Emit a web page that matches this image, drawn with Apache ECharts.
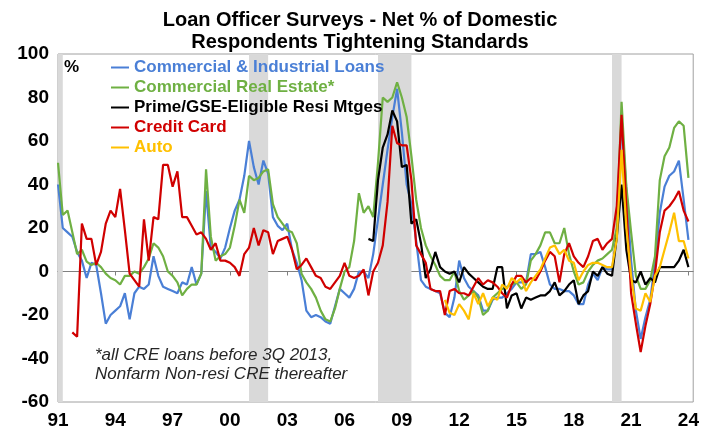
<!DOCTYPE html>
<html>
<head>
<meta charset="utf-8">
<script src="https://cdn.jsdelivr.net/npm/echarts@6/dist/echarts.min.js"></script>
<style>
  html, body { margin: 0; padding: 0; background: #fff; }
  #chart { width: 702px; height: 430px; }
</style>
</head>
<body>
<div id="chart"></div>
<script>
// quarterly survey dates, 1991Q1 .. 2024Q2 (last one empty, pads the axis)
var quarters = [];
for (var y = 1991; y <= 2024; y++) {
  for (var q = 1; q <= 4; q++) {
    if (y === 2024 && q > 2) break;
    quarters.push(y + 'Q' + q);
  }
}
var tickYears = ['91', '94', '97', '00', '03', '06', '09', '12', '15', '18', '21', '24'];
var recessions = [['1991Q1', '1991Q2'], ['2001Q1', '2002Q1'], ['2007Q4', '2009Q3'], ['2020Q1', '2020Q3']];

// net % tightening, from 1991Q1
var ciLoans = [
  40, 20, 18, 16, 9, 5, -3, 4, 3, -10,
  -24, -20, -18, -16, -10, -22, -10, -7, -8, -6,
  7, -2, -7, -8, -9, -10, -5, -6, 2, -6,
  -1, 37, 11, 9, 6, 11, 20, 28, 33, 44,
  60, 48, 40, 51, 45, 25, 21, 19, 22, 10,
  4, -4, -18, -21, -20, -21, -23, -24, -16, -8,
  -10, -12, -8, 0, 0, -3, 8, 24, 40, 56,
  71, 84, 64, 40, 31, 14, -4, -7, -8, -9,
  -10, -19, -21, -12, 5, -3, -7, -9, -11, -18,
  -18, -13, -12, -12, -10, -8, -5, -5, -5, 8,
  8, 9, 2, -6, -8, -8, -9, -9, -11, -15,
  -15, -6, -1, -4, 2, 1, 1, 16, 70, 38,
  5, -18, -31, -21, -13, 4, 27, 39, 44, 46,
  51, 33, 14.5
];
var creLoans = [
  50, 26, 28, 18, 8, 10, 4.5, 3, 4, 2,
  -1, -3, -4, -6, -2, -2, 0, -1, 2, 6,
  13, 11, 7, 0, -2, -5, -11, -8, -6, -6,
  -1, 47, 16, 5, 7, 8, 11, 21, 33, 27,
  44, 42, 43, 46, 47, 31, 25, 22, 19, 18,
  13, -1, -5, -8, -12, -18, -22, -23, -17, -8,
  0, 2, 14, 36, 27, 30, 25, 50, 80, 78,
  80, 87, 80, 71, 53, 33, 20, 12, 7, 3,
  -2, -4, -4, 0, -9, -13, -11, -9, -12, -20,
  -18, -12, -10, -8, -7, -6, -5, -8, -6, 5,
  8, 12, 18, 18, 13, 13, 20, 8, 0, -6,
  -5, 0, 3, 5, 6, 8, 10, 20, 78, 39,
  18, -2, -8, -8, -4, 7, 42, 53, 57, 66,
  69, 67, 43
];
// starts 2007Q2
var primeMtg = [
  15, 14, 42, 57, 63, 74, 69, 48, 49, 22,
  24, 13, -3, 1, 9, 2, 0, -1, 0, -5,
  2, -1, -3, -5, -7, -8, -8, 2, 2, -17,
  -11, -10, -17, -12, -13, -12, -11, -11, -9, -5,
  -11, -9, -6, -4, -15, -11, -9, 0, -2, 2,
  -1, -2, 16, 40, 10, -4, -5, 0, -6, -3,
  -5, 2, 2, 2, 2, 5, 10, 2
];
// starts 1991Q4
var creditCard = [
  -28, -30, 22, 15, 15, 3, 9, 22, 28, 25,
  38, 19, -1, -4, -7, 24, 5, 25, 24, 49,
  49, 39, 46, 25, 25, 21, 17, 18, 15, 10,
  13, 5, 5, 4, 2, -2, 8, 11, 20, 12,
  19, 18, 8, 14, 15, 16, 10, 1, 3, 6,
  2, -2, -3, -7, -8, -5, -2, 4, -2, -3,
  -2, 1, -11, 0, 4, 12, 32, 67, 59, 58,
  58, 42, 12, 8, 4, -8, -9, -9, -20, -9,
  -8, -10, -10, -11, -7, -3, -6, -4, -5, -7,
  -10, -12, -6, -2, -2, -5, -3, -4, 0, 5,
  9, 7, -5, 8, 13, 7, 4, 2, 7, 14,
  15, 10, 13, 15, 30, 72, 30, -10, -24, -37,
  -25, -15, -1, 18, 28, 30, 33, 37, 28, 23
];
// starts 2011Q2
var autoLoans = [
  -13, -19, -20, -15, -18, -22, -10, -15, -10, -16,
  -12, -13, -6, -8, -3, -5, -3, -9, -5, -2,
  1, 6, 11, 12, 8, 10, 5, 4, -4, 0,
  3, 4, 4, 3, 2, 2, 15, 56, 20, -2,
  -17, -18, -10, -14, -2, 2, 10, 18, 27, 14,
  14, 6
];

function fromQuarter(start, values) {
  var out = [];
  var k = quarters.indexOf(start);
  for (var i = 0; i < k; i++) out.push(null);
  return out.concat(values);
}

var names = ['Commercial & Industrial Loans', 'Commercial Real Estate*', 'Prime/GSE-Eligible Resi Mtges', 'Credit Card', 'Auto'];
var colors = ['#4a7fd6', '#6fb043', '#000000', '#d00000', '#ffc000'];
var seriesData = [
  ciLoans,
  creLoans,
  fromQuarter('2007Q2', primeMtg),
  fromQuarter('1991Q4', creditCard),
  fromQuarter('2011Q2', autoLoans)
];
var FONT = '"Liberation Sans", Arial, sans-serif';

var chart = echarts.init(document.getElementById('chart'));

var series = names.map(function (n, k) {
  return {
    name: n,
    type: 'line',
    data: seriesData[k],
    showSymbol: false,
    symbol: 'none',
    z: 3,
    lineStyle: { width: 2.2, color: colors[k] },
    itemStyle: { color: colors[k] }
  };
});
series.unshift({
  name: 'recession',
  type: 'line',
  data: [],
  z: 1,
  silent: true,
  markArea: {
    silent: true,
    itemStyle: { color: '#d9d9d9' },
    data: recessions.map(function (r) { return [{ xAxis: r[0] }, { xAxis: r[1] }]; })
  }
});

function isTickYear(index, value) {
  return value.slice(4) === 'Q1' && tickYears.indexOf(value.slice(2, 4)) >= 0;
}

chart.setOption({
  animation: false,
  grid: { left: 58, right: 7, top: 54, bottom: 28, show: true, borderColor: '#a0a0a0', borderWidth: 1 },
  legend: {
    orient: 'vertical',
    left: 106,
    top: 54,
    itemWidth: 18,
    itemHeight: 2,
    itemGap: 3,
    icon: 'rect',
    textStyle: { fontFamily: FONT, fontSize: 17, fontWeight: 'bold' },
    data: names.map(function (n, k) { return { name: n, textStyle: { color: colors[k] } }; })
  },
  xAxis: [
    {
      type: 'category',
      data: quarters,
      boundaryGap: false,
      axisLine: { show: false, onZero: false },
      axisTick: { show: false },
      axisLabel: {
        interval: isTickYear,
        formatter: function (v) { return v.slice(2, 4); },
        color: '#000',
        fontFamily: FONT,
        fontSize: 19,
        fontWeight: 'bold',
        margin: 9
      },
      splitLine: { show: false }
    },
    {
      type: 'category',
      data: quarters,
      position: 'bottom',
      boundaryGap: false,
      axisLine: { show: true, onZero: true, lineStyle: { color: '#808080', width: 1 } },
      axisTick: { show: true, interval: isTickYear, length: 4, lineStyle: { color: '#808080' } },
      axisLabel: { show: false },
      splitLine: { show: false }
    }
  ],
  yAxis: {
    type: 'value',
    min: -60,
    max: 100,
    interval: 20,
    axisLine: { show: false },
    axisTick: { show: false },
    splitLine: { show: false },
    axisLabel: {
      color: '#000',
      fontFamily: FONT,
      fontSize: 19,
      fontWeight: 'bold',
      margin: 9
    }
  },
  graphic: [
    {
      type: 'text', x: 360, y: 9, z: 100,
      style: {
        text: 'Loan Officer Surveys - Net % of Domestic\nRespondents Tightening Standards',
        align: 'center', textAlign: 'center',
        font: 'bold 20px ' + FONT,
        lineHeight: 22, fill: '#000'
      }
    },
    {
      type: 'text', x: 64, y: 59, z: 100,
      style: { text: '%', font: 'bold 17px ' + FONT, fill: '#000' }
    },
    {
      type: 'text', x: 95, y: 346, z: 100,
      style: {
        text: '*all CRE loans before 3Q 2013,\nNonfarm Non-resi CRE thereafter',
        font: 'italic 17px ' + FONT,
        lineHeight: 19, fill: '#262626'
      }
    }
  ],
  series: series
});
</script>
</body>
</html>
